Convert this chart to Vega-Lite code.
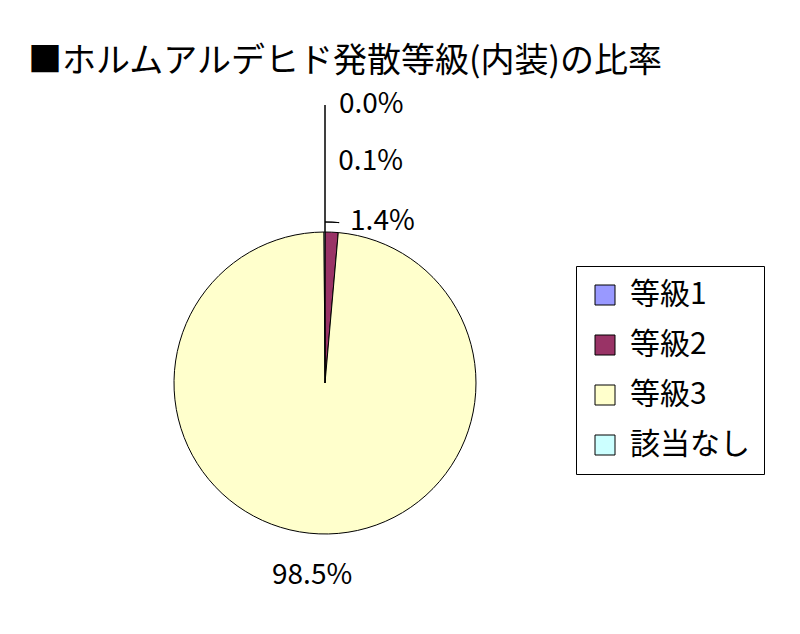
{
  "$schema": "https://vega.github.io/schema/vega-lite/v6.json",
  "autosize": "none",
  "width": 650,
  "height": 566,
  "padding": {"left": 0, "top": 100, "right": 150, "bottom": 0},
  "background": "white",
  "title": {
    "text": "■ホルムアルデヒド発散等級(内装)の比率",
    "anchor": "start",
    "font": "Noto Sans CJK JP",
    "fontSize": 34,
    "fontWeight": "normal",
    "color": "black",
    "dx": 28,
    "offset": 12
  },
  "config": {"view": {"stroke": null}},
  "data": {
    "values": [
      {"cat": "等級1", "share": 0.000, "idx": 1},
      {"cat": "等級2", "share": 0.014, "idx": 2},
      {"cat": "等級3", "share": 0.985, "idx": 3},
      {"cat": "該当なし", "share": 0.001, "idx": 4}
    ]
  },
  "encoding": {
    "theta": {"field": "share", "type": "quantitative", "stack": true},
    "order": {"field": "idx", "type": "quantitative"}
  },
  "layer": [
    {
      "mark": {"type": "arc", "radius": 151, "radius2": 0, "stroke": "black", "strokeWidth": 1},
      "encoding": {
        "color": {
          "field": "cat",
          "type": "nominal",
          "scale": {
            "domain": ["等級1", "等級2", "等級3", "該当なし"],
            "range": ["#9999FF", "#993366", "#FFFFCC", "#CCFFFF"]
          },
          "legend": {
            "title": null,
            "orient": "none",
            "legendX": 576,
            "legendY": 166,
            "fillColor": "white",
            "strokeColor": "black",
            "padding": 14,
            "symbolType": "square",
            "symbolSize": 400,
            "symbolStrokeColor": "black",
            "symbolStrokeWidth": 1,
            "symbolOpacity": 1,
            "labelFont": "Noto Sans CJK JP",
            "labelFontSize": 30,
            "labelColor": "black",
            "labelOffset": 10,
            "labelLimit": 300,
            "rowPadding": 20
          }
        }
      }
    },
    {
      "mark": {"type": "arc", "radius": 278, "radius2": 151, "fill": null, "stroke": "black", "strokeWidth": 1},
      "encoding": {
        "strokeOpacity": {"condition": {"test": "datum.cat === '等級1'", "value": 1}, "value": 0}
      }
    },
    {
      "mark": {"type": "arc", "radius": 161, "radius2": 161, "fill": null, "stroke": "black", "strokeWidth": 1},
      "encoding": {
        "strokeOpacity": {"condition": {"test": "datum.cat === '等級2'", "value": 1}, "value": 0}
      }
    },
    {
      "mark": {"type": "text", "radius": 278, "align": "left", "baseline": "middle", "dx": 14, "font": "Noto Sans CJK JP", "fontSize": 28, "color": "black"},
      "encoding": {
        "text": {"condition": {"test": "datum.cat === '等級1'", "field": "share", "format": ".1%"}, "value": ""}
      }
    },
    {
      "mark": {"type": "text", "radius": 221, "align": "left", "baseline": "middle", "dx": 14, "font": "Noto Sans CJK JP", "fontSize": 28, "color": "black"},
      "encoding": {
        "text": {"condition": {"test": "datum.cat === '該当なし'", "field": "share", "format": ".1%"}, "value": ""}
      }
    },
    {
      "mark": {"type": "text", "radius": 161, "align": "left", "baseline": "middle", "dx": 18, "font": "Noto Sans CJK JP", "fontSize": 28, "color": "black"},
      "encoding": {
        "text": {"condition": {"test": "datum.cat === '等級2'", "field": "share", "format": ".1%"}, "value": ""}
      }
    },
    {
      "mark": {"type": "text", "radius": 193, "align": "center", "baseline": "middle", "dx": -5, "font": "Noto Sans CJK JP", "fontSize": 28, "color": "black"},
      "encoding": {
        "text": {"condition": {"test": "datum.cat === '等級3'", "field": "share", "format": ".1%"}, "value": ""}
      }
    }
  ]
}
